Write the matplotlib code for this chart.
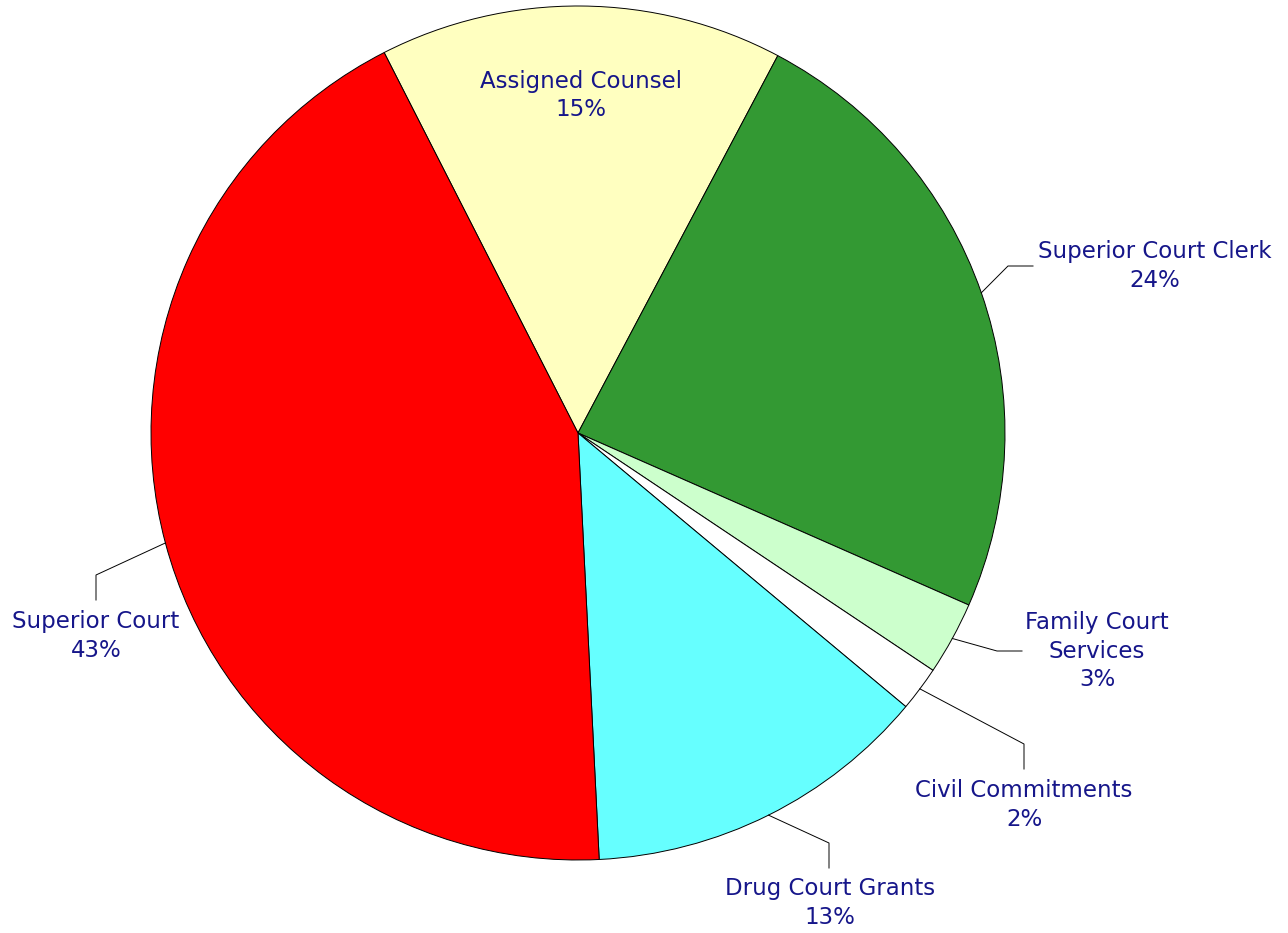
import numpy as np
import matplotlib
matplotlib.use("Agg")
import matplotlib.pyplot as plt

# Data (clockwise from the top-left boundary)
categories = ["Assigned Counsel", "Superior Court Clerk", "Family Court\nServices",
              "Civil Commitments", "Drug Court Grants", "Superior Court"]
values = [15.25, 23.85, 2.78, 1.69, 13.14, 43.29]
colors = ["#FFFFC0", "#339933", "#CCFFCC", "#FFFFFF", "#66FFFF", "#FF0000"]

W, H = 1288, 933
CX, CY, R = 578, 433, 427  # pixel layout of the pie

fig = plt.figure(figsize=(W / 100, H / 100), dpi=100)
ax = fig.add_axes([0, 0, 1, 1])

wedges, _ = ax.pie(values, colors=colors, startangle=117, counterclock=False,
                   radius=1.0, center=(0, 0), frame=False,
                   wedgeprops=dict(edgecolor="black", linewidth=0.7))
ax.set_xlim(-CX / R, (W - CX) / R)
ax.set_ylim((CY - H) / R, CY / R)
ax.set_aspect("equal")
ax.axis("off")

def px(x, y):
    return ((x - CX) / R, (CY - y) / R)

total = sum(values)
pcts = [f"{round(v / total * 100):d}%" for v in values]
textcolor = "#16168A"
fs = 16.5
ls = 1.3

# layout: (elbow pixel, end pixel, text pixel) for outside labels
layout = {
    1: ((1008, 266), (1033, 266), (1155, 266)),
    2: ((997, 651), (1022, 651), (1097, 651)),
    3: ((1024, 744), (1024, 769), (1024, 805)),
    4: ((829, 843), (829, 868), (830, 903)),
    5: ((96, 575), (96, 600), (96, 636)),
}

for i, w in enumerate(wedges):
    mid = np.deg2rad((w.theta1 + w.theta2) / 2)
    label = f"{categories[i]}\n{pcts[i]}"
    if i == 0:
        ax.text(0.79 * np.cos(mid), 0.79 * np.sin(mid), label, ha="center", va="center",
                color=textcolor, fontsize=fs, linespacing=ls, family="DejaVu Sans")
        continue
    sx, sy = np.cos(mid), np.sin(mid)
    elbow, end, tpos = layout[i]
    ex, ey = px(*elbow)
    nx, ny = px(*end)
    ax.plot([sx, ex, nx], [sy, ey, ny], color="black", linewidth=0.7)
    tx, ty = px(*tpos)
    ax.text(tx, ty, label, ha="center", va="center", color=textcolor, fontsize=fs,
            linespacing=ls, family="DejaVu Sans")

fig.savefig("out.png", dpi=100, facecolor="white")
